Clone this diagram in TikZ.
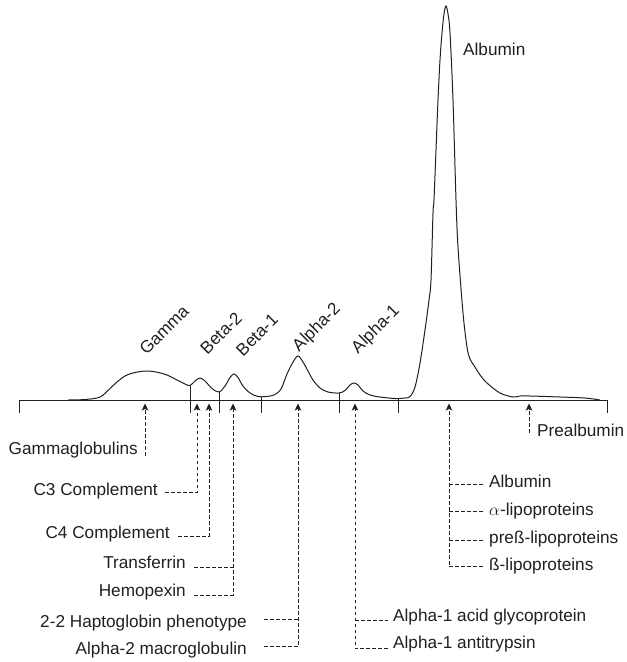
\documentclass[tikz,border=0pt]{standalone}
\usepackage{fontspec}
\setmainfont{Liberation Sans}
\usetikzlibrary{arrows.meta}
\definecolor{ink}{RGB}{35,31,32}
\begin{document}
\begin{tikzpicture}[x=1pt,y=-1pt,
  lbl/.style={inner sep=0pt, font=\fontsize{17.2}{20}\selectfont, text=ink},
  pk/.style={lbl, rotate=45, anchor=center},
  dsh/.style={draw=ink, line width=0.85pt, dash pattern=on 3.6pt off 2.4pt},
  arr/.style={dsh, -{Stealth[length=7pt,width=6.5pt,inset=1.5pt]}},
  tickln/.style={draw=ink, line width=1pt},
  curveln/.style={draw=ink, line width=1pt}]
\useasboundingbox (0,0) rectangle (627,662);

% baseline and ticks
\coordinate (bl) at (19,400);
\coordinate (br) at (607,400);
\draw[tickln] (19,413) -- (bl) -- (br) -- (607,413);
\draw[tickln] (190,385.5) -- (190,413);
\draw[tickln] (219,392) -- (219,413);
\draw[tickln] (261,396.8) -- (261,413);
\draw[tickln] (339,393) -- (339,413);
\draw[tickln] (398,399) -- (398,413);

% densitometric curve
\draw[curveln] plot[smooth, tension=0.55] coordinates {
(68,400) (85,399.5) (100,397) (110,388.5) (117,382) (125,376) (133,373) (145,371) (156,372) (167,375) (177,380) (185,384) (190,385.5) (195,381) (200,378) (205,381) (212,388.5) (219,392) (225,386) (230,377.5) (234,374) (238,377.5) (243,386) (250,393) (258,396.5) (266,396.5) (274,395) (281,389) (287,374) (293,362) (298,356) (303,362) (308,371) (313,380) (320,388) (328,392) (339,393) (345,390.5) (350,385) (354,383) (358,385) (363,391) (370,395) (380,397) (395,398.5) (405,398) (410,396.5) (415,387) (420,363) (425,330) (429,300) (431,280) (433,213) (434,200) (436,150) (438,100) (440,60) (442,33) (444,14) (446,6) (448,14) (450,33) (453,100) (456,200) (458,247) (463,313) (467,347) (470,359) (475,367) (480,375) (487,383) (500,393) (513,397) (520,396) (530,396) (560,397) (585,398) (600,400)};

% peak labels
\node[pk] (pGamma) at (164,330) {Gamma};
\node[pk] (pBeta2) at (221,333) {Beta-2};
\node[pk] (pBeta1) at (257,335) {Beta-1};
\node[pk] (pAlpha2) at (317,328) {Alpha-2};
\node[pk] (pAlpha1) at (376,330) {Alpha-1};
\node[lbl, anchor=base west] (pAlb) at (463,55) {Albumin};

% arrow tips at baseline
\coordinate (tG) at (145,403.5);
\coordinate (tC3) at (197,403.5);
\coordinate (tC4) at (209,403.5);
\coordinate (tTr) at (233,403.5);
\coordinate (tA2) at (298,403.5);
\coordinate (tA1) at (355,403.5);
\coordinate (tAl) at (449,403.5);
\coordinate (tPre) at (529,403.5);

% left labels
\node[lbl, anchor=base east] (nGamma) at (138,454) {Gammaglobulins};
\node[lbl, anchor=base east] (nC3) at (158,495.5) {C3 Complement};
\node[lbl, anchor=base east] (nC4) at (170,538) {C4 Complement};
\node[lbl, anchor=base east] (nTra) at (186,568.5) {Transferrin};
\node[lbl, anchor=base east] (nHem) at (186,596) {Hemopexin};
\node[lbl, anchor=base east] (nHap) at (247,627) {2-2 Haptoglobin phenotype};
\node[lbl, anchor=base east] (nMac) at (247,654.5) {Alpha-2 macroglobulin};

\coordinate (eG) at (145,456);
\draw[arr] (eG) -- (tG);
\coordinate (sC3) at (165,492.3);
\coordinate (kC3) at (197,492.3);
\draw[arr] (sC3) -- (kC3) -- (tC3);
\coordinate (sC4) at (178,536);
\coordinate (kC4) at (209,536);
\draw[arr] (sC4) -- (kC4) -- (tC4);
\coordinate (sTra) at (194,567.3);
\coordinate (kTra) at (233,567.3);
\coordinate (sHem) at (194,595);
\coordinate (kHem) at (233,595);
\draw[arr] (sHem) -- (kHem) -- (tTr);
\draw[dsh] (sTra) -- (kTra);
\coordinate (sHap) at (264,619.3);
\coordinate (kHap) at (298,619.3);
\coordinate (sMac) at (264,646.7);
\coordinate (kMac) at (298,646.7);
\draw[arr] (sMac) -- (kMac) -- (tA2);
\draw[dsh] (sHap) -- (kHap);

% right labels
\node[lbl, anchor=base west] (nAlb) at (489,487.5) {Albumin};
\node[lbl, anchor=base west] (nAlp) at (489,515.5) {$\alpha$-lipoproteins};
\node[lbl, anchor=base west] (nPre) at (489,543) {preß-lipoproteins};
\node[lbl, anchor=base west] (nBet) at (489,570.5) {ß-lipoproteins};
\node[lbl, anchor=base west] (nAag) at (393,621) {Alpha-1 acid glycoprotein};
\node[lbl, anchor=base west] (nAat) at (393,648.5) {Alpha-1 antitrypsin};
\node[lbl, anchor=base west] (nPrealb) at (537,436) {Prealbumin};

\coordinate (kAlb) at (449,484);
\coordinate (kAlp) at (449,511.7);
\coordinate (kPre) at (449,540);
\coordinate (kBet) at (449,566.7);
\coordinate (eAlb) at (483,484);
\coordinate (eAlp) at (483,511.7);
\coordinate (ePre) at (483,540);
\coordinate (eBet) at (483,566.7);
\draw[arr] (eBet) -- (kBet) -- (tAl);
\draw[dsh] (kAlb) -- (eAlb);
\draw[dsh] (kAlp) -- (eAlp);
\draw[dsh] (kPre) -- (ePre);

\coordinate (kAag) at (355,620);
\coordinate (kAat) at (355,648.3);
\coordinate (eAag) at (388,620);
\coordinate (eAat) at (388,648.3);
\draw[arr] (eAat) -- (kAat) -- (tA1);
\draw[dsh] (kAag) -- (eAag);

\coordinate (ePrealb) at (529,433);
\draw[arr] (ePrealb) -- (tPre);
\end{tikzpicture}
\end{document}
